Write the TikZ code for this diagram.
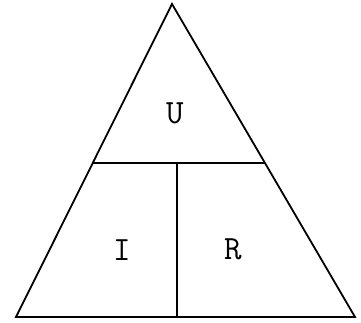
\documentclass[tikz,border=0pt]{standalone}
\usepackage{fontspec}
\usetikzlibrary{calc}
\begin{document}
\begin{tikzpicture}[x=1pt,y=-1pt,
  edge/.style={line width=1.8pt,line join=miter},
  lbl/.style={font=\ttfamily\fontsize{34}{34}\selectfont,inner sep=0pt}]
\useasboundingbox (0,0) rectangle (361,323);
\coordinate (A) at (172,4);
\coordinate (B) at (16,317);
\coordinate (C) at (355,317);
\draw[edge] (A) -- (B) -- (C) -- cycle;
\coordinate (L) at ($(A)!0.508!(B)$);
\coordinate (Rr) at ($(A)!0.508!(C)$);
\draw[edge] (L) -- (Rr);
\coordinate (T) at (177,163);
\coordinate (Bt) at (177,317);
\draw[edge] (T) -- (Bt);
\node[lbl] (u) at (175,113) {U};
\node[lbl] (i) at (122,250) {I};
\node[lbl] (r) at (233,249) {R};
\end{tikzpicture}
\end{document}
